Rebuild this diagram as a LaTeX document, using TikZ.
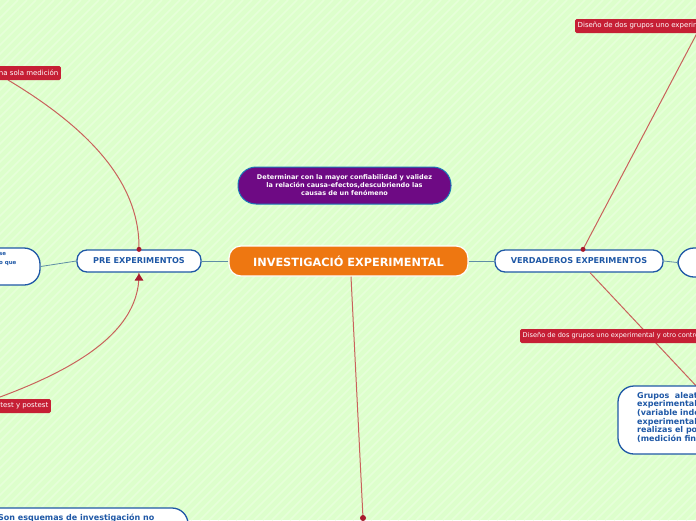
\documentclass[tikz,border=0pt]{standalone}
\usepackage{fontspec}
\setmainfont{DejaVu Sans}
\usetikzlibrary{arrows.meta}

\definecolor{fondo}{HTML}{DDFFCC}
\definecolor{raya}{HTML}{E6FFD9}
\definecolor{naranja}{HTML}{EE7711}
\definecolor{morado}{HTML}{6E0A84}
\definecolor{azul}{HTML}{1F58A6}
\definecolor{rojo}{HTML}{C61F35}
\definecolor{enlace}{HTML}{C9625C}
\definecolor{gris}{HTML}{5E8DA6}

\tikzset{
  central/.style={draw=white, line width=1.2pt, fill=naranja, rounded corners=12pt,
    text=white, font=\bfseries\fontsize{11.3}{12}\selectfont},
  meta/.style={draw=azul!80!cyan, line width=1pt, fill=morado, rounded corners=18pt,
    text=white, align=center, font=\bfseries\fontsize{6.5}{8}\selectfont},
  tipo/.style={draw=azul, line width=1.3pt, fill=white, rounded corners=10pt,
    text=azul, font=\bfseries\fontsize{8.1}{9}\selectfont},
  nota/.style={draw=azul, line width=1.3pt, fill=white, rounded corners=16pt,
    text=azul, font=\bfseries\fontsize{8}{8.6}\selectfont},
  etiqueta/.style={fill=rojo, rounded corners=1.5pt, text=white, inner sep=2.5pt,
    minimum height=14pt, font=\fontsize{7}{8}\selectfont},
  rama/.style={gris, line width=0.8pt},
  lazo/.style={enlace, line width=1pt},
  punto/.style={fill=rojo!85!black}
}

\begin{document}
\begin{tikzpicture}[x=1pt,y=-1pt]

  % Fondo
  \useasboundingbox (0,0) rectangle (696,520);
  \clip (0,0) rectangle (696,520);
  \fill[fondo] (0,0) rectangle (696,520);
  \foreach \k in {0,9,...,1220}
    \draw[raya, line width=1.5pt] (\k-520,520) -- (\k,0);

  % Extremos recortados
  \coordinate (ini1) at (8,80);
  \coordinate (ini2) at (0,397);
  \coordinate (fin1) at (705,18);
  \coordinate (fin2) at (700,390);
  \coordinate (fin3) at (363,518);

  % Nodos
  \node[central, minimum width=239pt, minimum height=30pt] (inv) at (348.5,261) {INVESTIGACIÓ EXPERIMENTAL};
  \node[meta, minimum width=213pt, minimum height=37pt] (obj) at (344.5,185.5)
    {Determinar con la mayor confiabilidad y validez\\la relación causa-efectos,descubriendo las\\causas de un fenómeno};
  \node[tipo, minimum width=124pt, minimum height=22pt] (pre) at (139,261) {PRE EXPERIMENTOS};
  \node[tipo, minimum width=168pt, minimum height=22pt] (verd) at (579,261) {VERDADEROS EXPERIMENTOS};
  \node[nota, minimum width=62pt, minimum height=29pt] (der) at (709,262.5) {};
  \node[nota, minimum width=80pt, minimum height=37pt] (izq) at (0,266.5) {};
  \node[text=azul, font=\bfseries\fontsize{5.5}{8.5}\selectfont, align=left, anchor=north west, inner sep=0pt]
    (izqt) at (-1,252.5) {se\\o que};

  % Ramas
  \draw[rama] (inv.west) -- (pre.east);
  \draw[rama] (inv.east) -- (verd.west);
  \draw[rama] (verd.east) -- (der.west);
  \draw[rama] (pre.west) -- (izq.east);

  \draw[lazo] (ini1) .. controls (100,135) and (140,190) .. (pre.north);
  \draw[lazo] (ini2) .. controls (100,360) and (140,320) .. (pre.south);
  \draw[lazo] ([xshift=2.5pt]inv.south) -- (fin3);
  \draw[lazo] ([xshift=4pt]verd.north) -- (fin1);
  \draw[lazo] ([xshift=11pt]verd.south) -- (fin2);

  \fill[punto] (pre.north) circle (2.5pt);
  \fill[punto] ([xshift=4pt]verd.north) circle (2.5pt);
  \fill[punto] (fin3) circle (3pt);
  \fill[punto] ([yshift=-1pt]pre.south) -- ++(-4.5,7) -- ++(9,0) -- cycle;

  % Etiquetas
  \node[etiqueta, anchor=west] (e1) at (575,26) {Diseño de dos grupos uno experimental};
  \node[etiqueta, anchor=west, font=\fontsize{6.6}{8}\selectfont] (e2) at (520,336) {Diseño de dos grupos uno experimental y otro control};
  \node[etiqueta, anchor=east] (e3) at (61,73) {Una sola medición};
  \node[etiqueta, anchor=east] (e4) at (51,406) {Pretest y postest};

  % Notas recortadas
  \node[nota, minimum width=162pt, minimum height=68pt] (gru) at (699,420) {};
  \node[text=azul, font=\bfseries\fontsize{8}{8.6}\selectfont, align=left, anchor=north west, inner sep=0pt]
    (grut) at (637,392) {Grupos\ \ aleatorios\\experimentales\\(variable independiente)\\experimentales\\realizas el postest\\(medición final)};
  \node[nota, minimum width=228pt, minimum height=52pt] (son) at (74,534) {};
  \node[text=azul, font=\bfseries\fontsize{8}{9}\selectfont, anchor=west, inner sep=0pt]
    (sont) at (-2,518) {Son esquemas de investigación no};

\end{tikzpicture}
\end{document}
